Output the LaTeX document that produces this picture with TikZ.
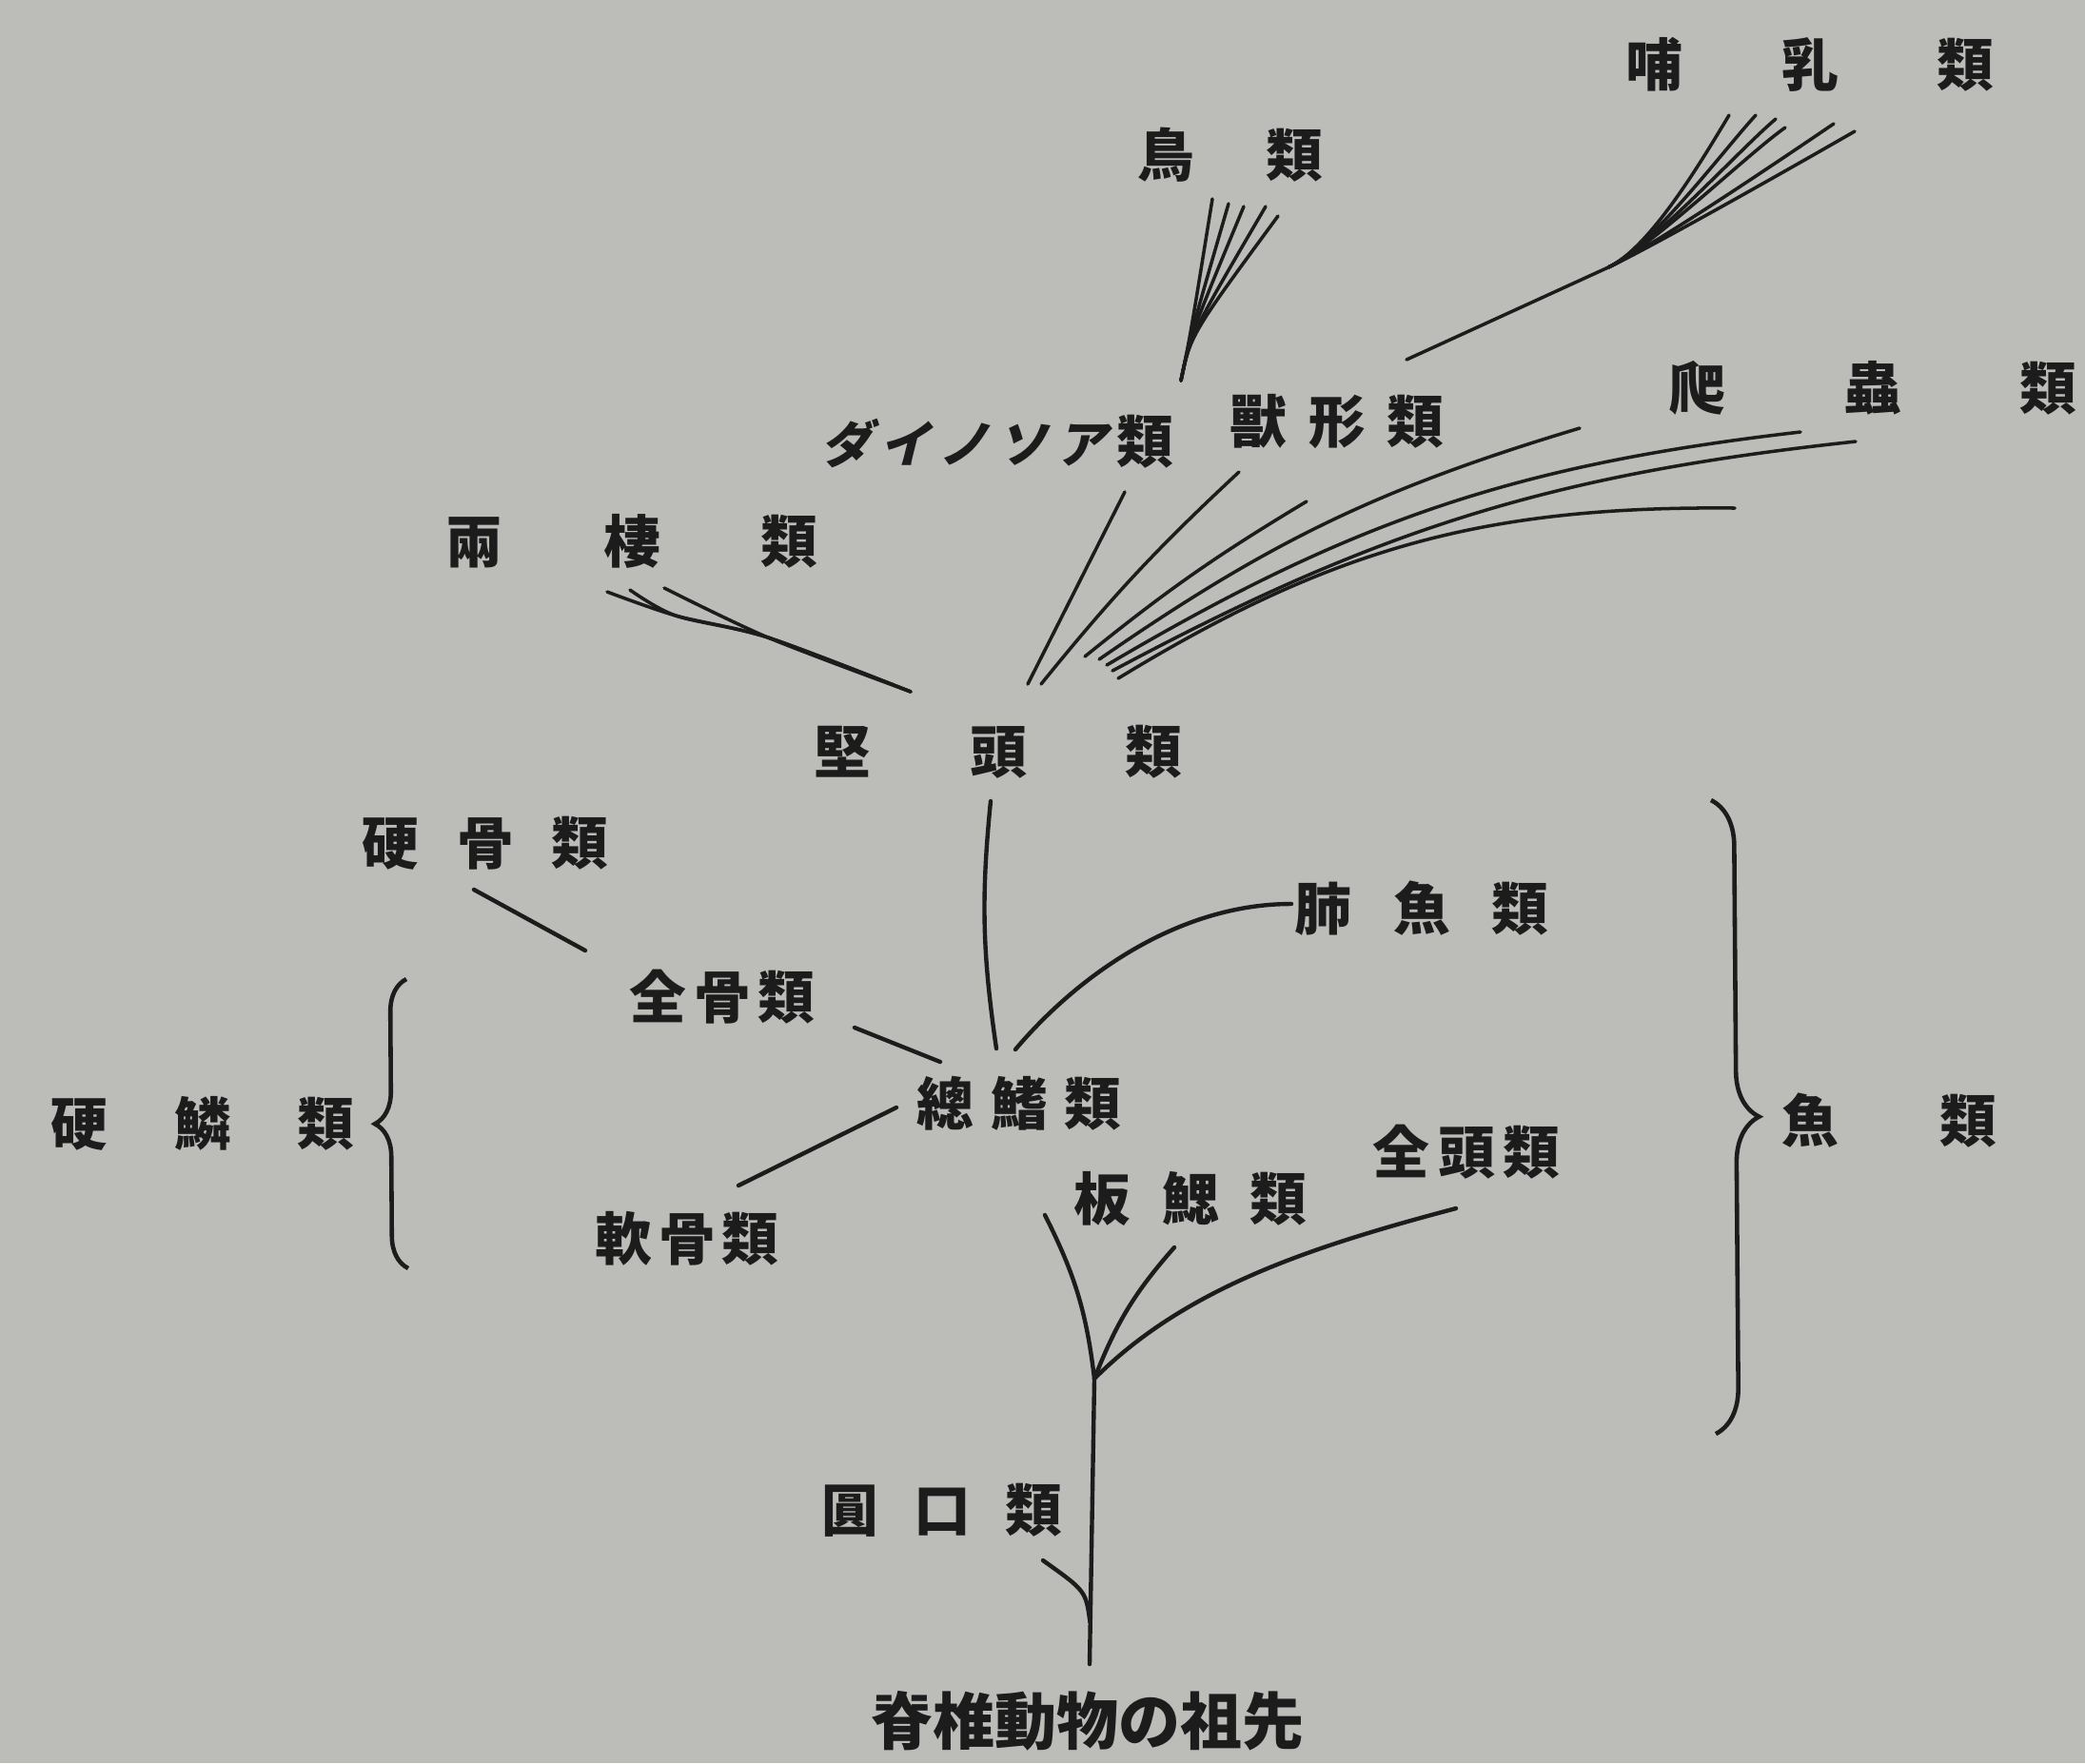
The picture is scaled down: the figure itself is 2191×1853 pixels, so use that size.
\documentclass[tikz,border=0pt]{standalone}
\usepackage{fontspec}
\usetikzlibrary{decorations.pathreplacing}
\newfontfamily\jp{Noto Sans CJK JP}
\newfontfamily\jpslant{Noto Sans CJK JP}[FakeSlant=0.25]
\definecolor{paper}{RGB}{188,188,185}
\definecolor{ink}{RGB}{28,28,28}
\newcommand{\kgap}[1]{\hspace{#1cm}}
\begin{document}
\begin{tikzpicture}[x=0.01cm,y=0.01cm,
  lab/.style={inner sep=0pt, text=ink, font=\jp\bfseries\fontsize{17}{17}\selectfont},
  ln/.style={draw=ink, line width=1.25pt, line cap=round},
  fan/.style={draw=ink, line width=1pt, line cap=round},
  brc/.style={draw=ink, line width=1.3pt, decorate, decoration={brace, amplitude=#1}}]
\path[use as bounding box, fill=paper] (0,0) rectangle (2191,-1853);

% ---------- labels ----------
\node[lab] (mam)    at (1902,-68)   {哺\kgap{1.04}乳\kgap{1.04}類};
\node[lab] (bird)   at (1293,-163)  {鳥\kgap{0.75}類};
\node[lab] (dino)   at (1048,-464)  {{\jpslant\fontsize{15}{15}\selectfont ダ\kgap{0.09}イ\kgap{0.09}ノ\kgap{0.09}ソ\kgap{0.09}ア}\kgap{0.11}類};
\node[lab] (synap)  at (1405,-443)  {獸\kgap{0.23}形\kgap{0.23}類};
\node[lab] (rept)   at (1968,-408)  {爬\kgap{1.25}蟲\kgap{1.25}類};
\node[lab] (amph)   at (664,-569)   {兩\kgap{1.06}棲\kgap{1.06}類};
\node[lab] (stego)  at (1049,-790)  {堅\kgap{1.035}頭\kgap{1.035}類};
\node[lab] (oste)   at (510,-886)   {硬\kgap{0.40}骨\kgap{0.40}類};
\node[lab] (dipn)   at (1494,-955)  {肺\kgap{0.435}魚\kgap{0.435}類};
\node[lab] (holo)   at (759,-1048)  {全\kgap{0.075}骨\kgap{0.075}類};
\node[lab] (ganoid) at (213,-1181)  {硬\kgap{0.70}鱗\kgap{0.70}類};
\node[lab] (cross)  at (1071,-1160) {總\kgap{0.18}鰭\kgap{0.18}類};
\node[lab] (pisces) at (1985,-1178) {魚\kgap{1.06}類};
\node[lab] (holoc)  at (1541,-1211) {全\kgap{0.085}頭\kgap{0.085}類};
\node[lab] (elasmo) at (1251,-1260) {板\kgap{0.33}鰓\kgap{0.33}類};
\node[lab] (chond)  at (722,-1302)  {軟\kgap{0.065}骨\kgap{0.065}類};
\node[lab] (cyclo)  at (990,-1587)  {圓\kgap{0.37}口\kgap{0.37}類};
\node[lab, font=\jp\bfseries\fontsize{18.5}{18.5}\selectfont] (anc) at (1143,-1809) {脊椎動物の祖先};

% ---------- mammal fan ----------
\coordinate (mB) at (1478,-378);
\coordinate (mJ) at (1690,-281);
\coordinate (m1) at (1817,-121);
\coordinate (m2) at (1845,-121);
\coordinate (m3) at (1866,-125);
\coordinate (m4) at (1876,-134);
\coordinate (m5) at (1927,-130);
\coordinate (m6) at (1949,-138);
\draw[fan] (mB) -- (mJ);
\draw[fan] (mJ) .. controls (1735,-260) and (1791,-164) .. (m1);
\draw[fan] (mJ) .. controls (1735,-260) and (1811,-158) .. (m2);
\draw[fan] (mJ) .. controls (1735,-260) and (1828,-157) .. (m3);
\draw[fan] (mJ) .. controls (1735,-260) and (1835,-163) .. (m4);
\draw[fan] (mJ) .. controls (1735,-260) and (1877,-164) .. (m5);
\draw[fan] (mJ) .. controls (1735,-260) and (1897,-168) .. (m6);

% ---------- bird fan ----------
\coordinate (bB) at (1241,-400);
\coordinate (b1) at (1274,-209);
\coordinate (b2) at (1291,-214);
\coordinate (b3) at (1307,-217);
\coordinate (b4) at (1330,-217);
\coordinate (b5) at (1343,-227);
\foreach \t in {b1,b2,b3,b4,b5}
  \draw[fan] (bB) .. controls (1251,-352) .. (\t);

% ---------- reptile fan from stegocephalians ----------
\coordinate (fa0) at (1080,-719); \coordinate (fa1) at (1182,-517);
\coordinate (fb0) at (1094,-719); \coordinate (fb1) at (1302,-496);
\coordinate (fc0) at (1140,-690); \coordinate (fc1) at (1373,-527);
\coordinate (fd0) at (1155,-693); \coordinate (fd1) at (1660,-450);
\coordinate (fe0) at (1163,-699); \coordinate (fe1) at (1892,-454);
\coordinate (ff0) at (1169,-705); \coordinate (ff1) at (1950,-464);
\coordinate (fg0) at (1175,-713); \coordinate (fg1) at (1823,-534);
\draw[fan] (fa0) -- (fa1);
\draw[fan] (fb0) to[bend left=4] (fb1);
\draw[fan] (fc0) to[bend left=4] (fc1);
\draw[fan] (fd0) to[bend left=9] (fd1);
\draw[fan] (fe0) to[bend left=12] (fe1);
\draw[fan] (ff0) to[bend left=11] (ff1);
\draw[fan] (fg0) to[bend left=16] (fg1);

% ---------- amphibian branch ----------
\coordinate (aE) at (957,-727);
\coordinate (aJ) at (807,-670);
\coordinate (aK) at (710,-647);
\coordinate (t1) at (638,-622);
\coordinate (t2) at (662,-620);
\coordinate (t3) at (698,-618);
\draw[fan] plot[smooth, tension=0.5] coordinates {(aE) (aJ) (aK) (t1)};
\draw[fan] plot[smooth, tension=0.5] coordinates {(aE) (aJ) (aK) (t2)};
\draw[fan] plot[smooth, tension=0.5] coordinates {(aE) (aJ) (t3)};

% ---------- fishes ----------
\coordinate (sT) at (1041,-842);
\coordinate (sX) at (1047,-1102);
\draw[ln] (sT) to[bend right=7] (sX);
\coordinate (lf0) at (1067,-1103);
\coordinate (lf1) at (1357,-950);
\draw[ln] (lf0) .. controls (1131,-1027) and (1237,-950) .. (lf1);
\coordinate (ho0) at (898,-1080);
\coordinate (ho1) at (988,-1116);
\draw[ln] (ho0) -- (ho1);
\coordinate (os0) at (498,-935);
\coordinate (os1) at (615,-999);
\draw[ln] (os0) -- (os1);
\coordinate (ch0) at (942,-1164);
\coordinate (ch1) at (776,-1246);
\draw[ln] (ch0) -- (ch1);

% ---------- trunk ----------
\coordinate (sB) at (1145,-1749);
\coordinate (sJ) at (1150,-1449);
\coordinate (L1) at (1098,-1277);
\coordinate (L2) at (1234,-1311);
\coordinate (L3) at (1530,-1270);
\coordinate (cS) at (1145.5,-1705);
\coordinate (cT) at (1096,-1640);
\draw[ln] (sB) -- (sJ);
\draw[ln] (sJ) to[bend right=10] (L1);
\draw[ln] (sJ) to[bend left=10] (L2);
\draw[ln] (sJ) .. controls (1245,-1354) and (1375,-1311) .. (L3);
\draw[ln] (cS) .. controls (1141,-1672) .. (cT);

% ---------- braces ----------
\coordinate (gb) at (429,-1333);
\coordinate (gt) at (427,-1029);
\draw[brc=0.34cm] (gb) -- (gt);
\coordinate (pt) at (1798,-841);
\coordinate (pb) at (1803,-1507);
\draw[brc=0.48cm] (pt) -- (pb);
\end{tikzpicture}
\end{document}
